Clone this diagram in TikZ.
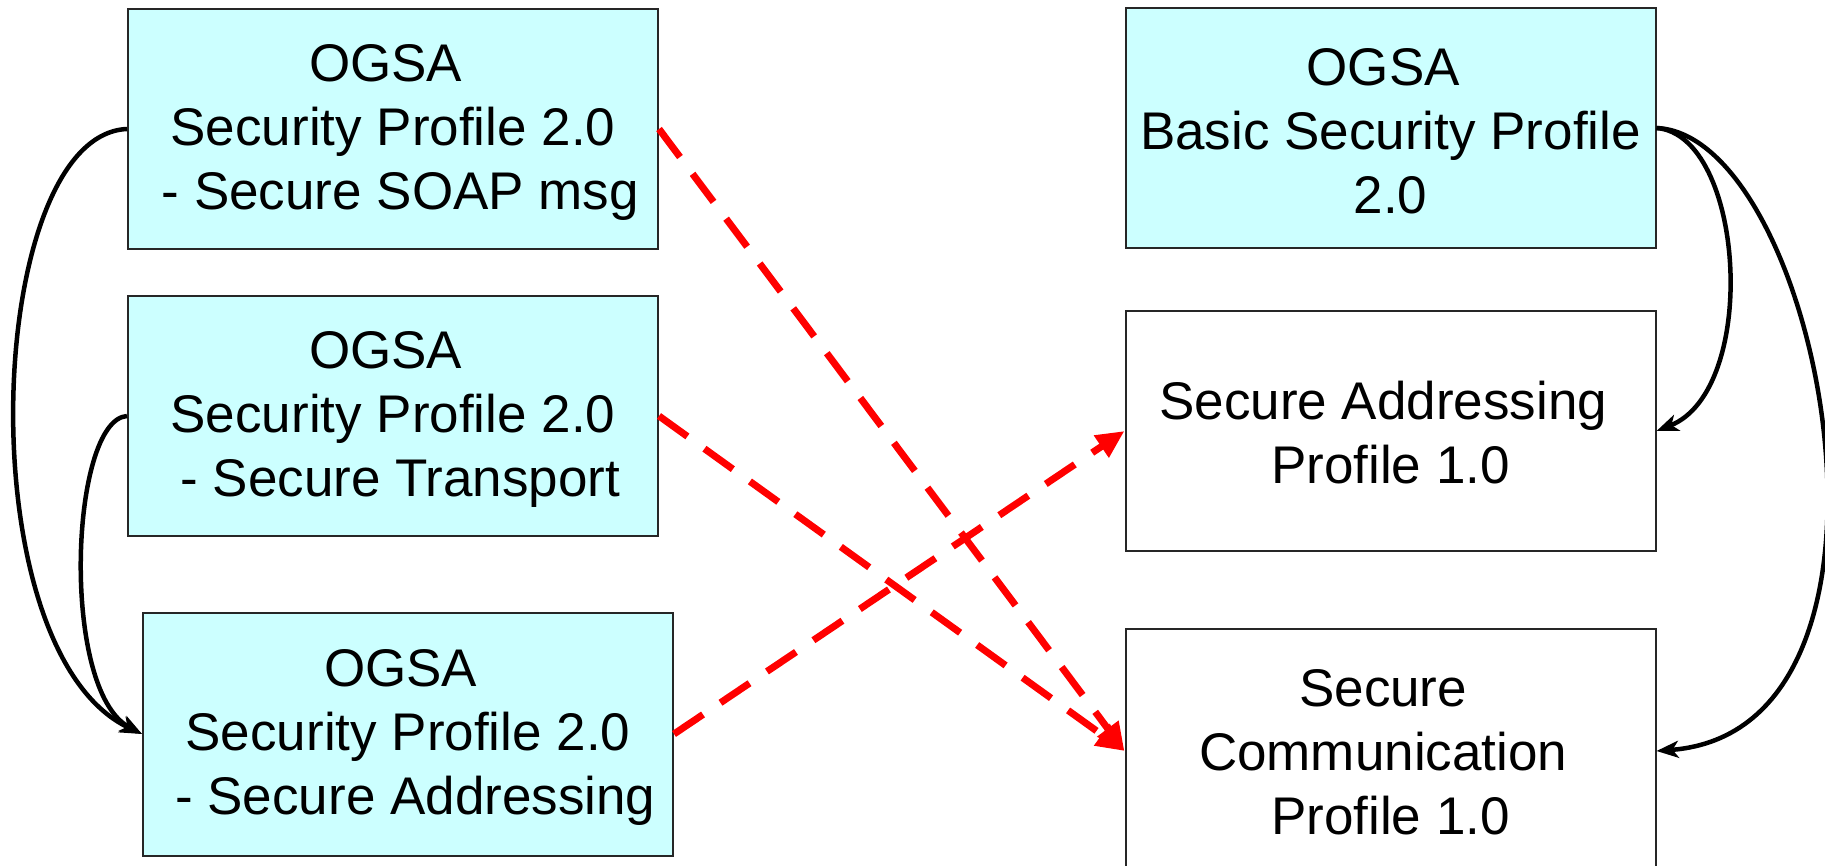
\documentclass[tikz,border=0pt]{standalone}
\usepackage{fontspec}
\setmainfont{Liberation Sans}
\usetikzlibrary{arrows.meta}
\definecolor{boxcyan}{HTML}{CCFFFF}
\definecolor{dashred}{HTML}{FF0000}
\begin{document}
\begin{tikzpicture}[x=1pt,y=-1pt,
  pbox/.style={draw=black!85,line width=2pt,minimum width=530pt,minimum height=240pt,inner sep=0pt},
  cbox/.style={pbox,fill=boxcyan},
  wbox/.style={pbox,fill=white},
  txt/.style={inner sep=0pt,align=center,font=\fontsize{53pt}{64pt}\selectfont},
  blk/.style={draw=black,line width=4.5pt,-{Stealth[length=22pt,width=17pt,inset=6pt]}},
  reddash/.style={draw=dashred,line width=7pt,dash pattern=on 35pt off 21pt,-{Triangle[length=28pt,width=25pt]}}]
\useasboundingbox (0,0) rectangle (1825,866);
\node[cbox] (a) at (393,129) {};
\node[cbox] (b) at (393,416) {};
\node[cbox,minimum height=243pt] (c) at (408,734) {};
\node[cbox] (d) at (1390.5,128) {};
\node[wbox] (e) at (1390.5,431) {};
\node[wbox,minimum height=244pt] (f) at (1390.5,751) {};
\node[txt] (at) at (393,132) {OGSA\kern14.7pt\\Security Profile 2.0\\\kern14.7pt- Secure SOAP msg};
\node[txt] (bt) at (393,419) {OGSA\kern14.7pt\\Security Profile 2.0\\\kern14.7pt- Secure Transport};
\node[txt] (ct) at (408,737) {OGSA\kern14.7pt\\Security Profile 2.0\\\kern14.7pt- Secure Addressing};
\node[txt] (dt) at (1390.5,131) {OGSA\kern14.7pt\\Basic Security Profile\\2.0};
\node[txt] (et) at (1390.5,433) {Secure Addressing\kern14.7pt\\Profile 1.0};
\node[txt] (ft) at (1390.5,752) {Secure\kern14.7pt\\Communication\kern14.7pt\\Profile 1.0};
\draw[blk] (a.west) .. controls (-15,135) and (-35,650) .. (c.west);
\draw[blk] (b.west) .. controls (70,420) and (60,690) .. (c.west);
\draw[blk] (d.east) .. controls (1745,135) and (1760,390) .. (e.east);
\draw[blk] (d.east) .. controls (1820,135) and (1935,730) .. (f.east);
\draw[reddash] (a.east) -- (f.west);
\draw[reddash] (b.east) -- (f.west);
\draw[reddash] (c.east) -- (e.west);
\end{tikzpicture}
\end{document}
